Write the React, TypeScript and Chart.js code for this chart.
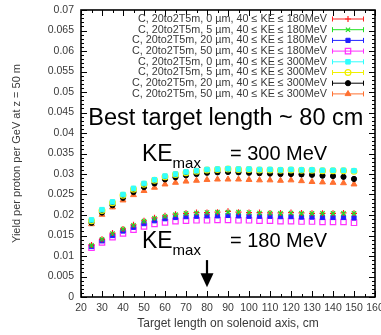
import React, { useEffect, useRef } from 'react';
import { Chart, registerables } from 'chart.js';
import { drawPoint } from 'chart.js/helpers';

Chart.register(...registerables);

// ---------- data ----------
const targetLengths = [25, 30, 35, 40, 45, 50, 55, 60, 65, 70, 75, 80, 85, 90, 95, 100, 105, 110, 115, 120, 125, 130, 135, 140, 145, 150];

const ke180_0um = [0.0127, 0.0141, 0.0156, 0.0166, 0.0176, 0.0186, 0.0193, 0.0198, 0.0202, 0.0204, 0.0206, 0.0206, 0.0207, 0.0209, 0.0207, 0.0206, 0.0206, 0.0205, 0.0205, 0.0206, 0.0205, 0.0204, 0.0204, 0.0204, 0.0205, 0.0204];
const ke180_5um = [0.0126, 0.0141, 0.0155, 0.0166, 0.0175, 0.0185, 0.0192, 0.0197, 0.0201, 0.0204, 0.0205, 0.0206, 0.0207, 0.0207, 0.0207, 0.0206, 0.0205, 0.0205, 0.0204, 0.0205, 0.0204, 0.0204, 0.0204, 0.0204, 0.0204, 0.0204];
const ke180_20um = [0.0123, 0.0137, 0.0150, 0.0161, 0.0170, 0.0179, 0.0186, 0.0191, 0.0194, 0.0196, 0.0197, 0.0198, 0.0198, 0.0199, 0.0198, 0.0197, 0.0197, 0.0197, 0.0196, 0.0196, 0.0195, 0.0195, 0.0194, 0.0194, 0.0194, 0.0193];
const ke180_50um = [0.0120, 0.0133, 0.0146, 0.0155, 0.0164, 0.0172, 0.0178, 0.0182, 0.0185, 0.0186, 0.0187, 0.0187, 0.0188, 0.0188, 0.0187, 0.0187, 0.0186, 0.0186, 0.0185, 0.0185, 0.0184, 0.0184, 0.0183, 0.0183, 0.0183, 0.0181];
const ke300_0um = [0.0188, 0.0213, 0.0232, 0.0250, 0.0265, 0.0277, 0.0286, 0.0295, 0.0300, 0.0305, 0.0308, 0.0311, 0.0312, 0.0313, 0.0312, 0.0312, 0.0311, 0.0311, 0.0310, 0.0311, 0.0310, 0.0310, 0.0309, 0.0309, 0.0309, 0.0308];
const ke300_5um = [0.0186, 0.0211, 0.0230, 0.0248, 0.0263, 0.0275, 0.0285, 0.0293, 0.0299, 0.0303, 0.0307, 0.0310, 0.0311, 0.0312, 0.0311, 0.0311, 0.0310, 0.0310, 0.0309, 0.0310, 0.0309, 0.0309, 0.0308, 0.0308, 0.0308, 0.0307];
const ke300_20um = [0.0181, 0.0206, 0.0224, 0.0242, 0.0256, 0.0268, 0.0277, 0.0287, 0.0292, 0.0297, 0.0300, 0.0303, 0.0304, 0.0305, 0.0304, 0.0303, 0.0302, 0.0301, 0.0300, 0.0300, 0.0299, 0.0298, 0.0296, 0.0295, 0.0293, 0.0288];
const ke300_50um = [0.0178, 0.0201, 0.0219, 0.0236, 0.0249, 0.0259, 0.0267, 0.0275, 0.0279, 0.0282, 0.0284, 0.0286, 0.0287, 0.0287, 0.0287, 0.0286, 0.0285, 0.0285, 0.0284, 0.0285, 0.0283, 0.0281, 0.0280, 0.0279, 0.0278, 0.0275];

const seriesLabels = [
  'C, 20to2T5m, 0 \u00b5m, 40 \u2264 KE \u2264 180MeV',
  'C, 20to2T5m, 5 \u00b5m, 40 \u2264 KE \u2264 180MeV',
  'C, 20to2T5m, 20 \u00b5m, 40 \u2264 KE \u2264 180MeV',
  'C, 20to2T5m, 50 \u00b5m, 40 \u2264 KE \u2264 180MeV',
  'C, 20to2T5m, 0 \u00b5m, 40 \u2264 KE \u2264 300MeV',
  'C, 20to2T5m, 5 \u00b5m, 40 \u2264 KE \u2264 300MeV',
  'C, 20to2T5m, 20 \u00b5m, 40 \u2264 KE \u2264 300MeV',
  'C, 20to2T5m, 50 \u00b5m, 40 \u2264 KE \u2264 300MeV',
];
const seriesValues = [ke180_0um, ke180_5um, ke180_20um, ke180_50um, ke300_0um, ke300_5um, ke300_20um, ke300_50um];

const xTitle = 'Target length on solenoid axis, cm';
const yTitle = 'Yield per proton per GeV at z = 50 m';
const bestText = 'Best target length ~ 80 cm';
const ke300Text = '= 300 MeV';
const ke180Text = '= 180 MeV';
const bestLength = 80;

// ---------- styles ----------
const styles = [
  { color: '#ff2020', pointStyle: 'cross', radius: 3, fill: true, bw: 1.2 },
  { color: '#20e020', pointStyle: 'crossRot', radius: 3, fill: true, bw: 1.2 },
  { color: '#2020ff', pointStyle: 'rect', radius: 3, fill: true, bw: 1 },
  { color: '#ff30ff', pointStyle: 'rect', radius: 3.8, fill: false, bw: 1.2 },
  { color: '#30ffff', pointStyle: 'rect', radius: 3.2, fill: true, bw: 1 },
  { color: '#f0f000', pointStyle: 'circle', radius: 2.9, fill: false, bw: 1.2 },
  { color: '#000000', pointStyle: 'circle', radius: 2.6, fill: true, bw: 1 },
  { color: '#ff7030', pointStyle: 'triangle', radius: 3.4, fill: true, bw: 1 },
];
// drawing order (lower = drawn on top)
const drawOrder = [2, 1, 3, 4, 5, 6, 7, 8];

const FONT = '"Liberation Sans", Arial, sans-serif';
const TEXT_GRAY = '#3a3a3a';

const framePlugin = {
  id: 'frame',
  afterDatasetsDraw(chart: any) {
    const { ctx, chartArea: a, scales } = chart;
    const xs = scales.x;
    const ys = scales.y;
    ctx.save();
    ctx.strokeStyle = '#000';
    ctx.lineWidth = 1;
    for (let i = 0; i <= 70; i++) {
      const py = Math.round(ys.getPixelForValue(i * 0.001)) + 0.5;
      const len = i % 5 === 0 ? 6 : 3;
      ctx.beginPath();
      ctx.moveTo(a.left, py);
      ctx.lineTo(a.left + len, py);
      ctx.moveTo(a.right, py);
      ctx.lineTo(a.right - len, py);
      ctx.stroke();
    }
    for (let i = 0; i <= 28; i++) {
      const px = Math.round(xs.getPixelForValue(20 + i * 5)) + 0.5;
      const len = i % 2 === 0 ? 6 : 3;
      ctx.beginPath();
      ctx.moveTo(px, a.bottom);
      ctx.lineTo(px, a.bottom - len);
      ctx.moveTo(px, a.top);
      ctx.lineTo(px, a.top + len);
      ctx.stroke();
    }
    ctx.lineWidth = 1.6;
    ctx.strokeRect(a.left, a.top, a.right - a.left, a.bottom - a.top);

    // legend
    ctx.font = `10.8px ${FONT}`;
    ctx.textAlign = 'right';
    ctx.textBaseline = 'middle';
    for (let i = 0; i < seriesLabels.length; i++) {
      const y = a.top + 9 + i * 10.7;
      const s = styles[i];
      ctx.fillStyle = TEXT_GRAY;
      ctx.fillText(seriesLabels[i], a.right - 48, y);
      const x0 = a.right - 43;
      const x1 = a.right - 11;
      ctx.strokeStyle = s.color;
      ctx.lineWidth = 1;
      ctx.beginPath();
      ctx.moveTo(x0, y);
      ctx.lineTo(x1, y);
      ctx.moveTo(x0 + 0.5, y - 2.5);
      ctx.lineTo(x0 + 0.5, y + 2.5);
      ctx.moveTo(x1 - 0.5, y - 2.5);
      ctx.lineTo(x1 - 0.5, y + 2.5);
      ctx.stroke();
      ctx.fillStyle = s.fill ? s.color : 'rgba(255,255,255,0)';
      ctx.lineWidth = s.bw;
      drawPoint(ctx, { pointStyle: s.pointStyle, radius: s.radius, rotation: 0, borderWidth: s.bw } as any, (x0 + x1) / 2, y);
    }

    // annotations
    ctx.fillStyle = '#000';
    ctx.textAlign = 'left';
    ctx.textBaseline = 'alphabetic';
    ctx.font = `23.5px ${FONT}`;
    ctx.fillText(bestText, xs.getPixelForValue(23.5), ys.getPixelForValue(0.042));

    const drawKE = (yVal: number, rest: string) => {
      const x = xs.getPixelForValue(49);
      const y = ys.getPixelForValue(yVal);
      ctx.font = `23px ${FONT}`;
      ctx.fillText('KE', x, y);
      const w = ctx.measureText('KE').width;
      ctx.font = `15px ${FONT}`;
      ctx.fillText('max', x + w, y + 7);
      ctx.font = `20px ${FONT}`;
      ctx.fillText(rest, x + 88, y - 1);
    };
    drawKE(0.0332, ke300Text);
    drawKE(0.012, ke180Text);

    // arrow
    const ax = xs.getPixelForValue(bestLength);
    const yTop = ys.getPixelForValue(0.0090);
    const yTip = ys.getPixelForValue(0.0024);
    const headH = 14;
    ctx.strokeStyle = '#000';
    ctx.lineWidth = 2.2;
    ctx.beginPath();
    ctx.moveTo(ax, yTop);
    ctx.lineTo(ax, yTip - headH + 1);
    ctx.stroke();
    ctx.beginPath();
    ctx.moveTo(ax - 6.5, yTip - headH);
    ctx.lineTo(ax + 6.5, yTip - headH);
    ctx.lineTo(ax, yTip);
    ctx.closePath();
    ctx.fill();
    ctx.restore();
  },
};

export default function App() {
  const ref = useRef<HTMLCanvasElement | null>(null);
  useEffect(() => {
    if (!ref.current) return;
    const datasets = seriesValues.map((vals, i) => {
      const s = styles[i];
      return {
        label: seriesLabels[i],
        data: targetLengths.map((x, j) => ({ x, y: vals[j] })),
        showLine: false,
        order: drawOrder[i],
        pointStyle: s.pointStyle,
        pointRadius: s.radius,
        pointBorderWidth: s.bw,
        borderColor: s.color,
        backgroundColor: s.fill ? s.color : 'rgba(255,255,255,0)',
        pointBackgroundColor: s.fill ? s.color : 'rgba(255,255,255,0)',
        pointBorderColor: s.color,
      };
    });
    const chart = new Chart(ref.current, {
      type: 'scatter',
      data: { datasets: datasets as any },
      options: {
        animation: false,
        responsive: false,
        layout: { padding: { top: 10, right: 6, left: 0, bottom: 0 } },
        plugins: { legend: { display: false }, tooltip: { enabled: false } },
        scales: {
          x: {
            type: 'linear',
            min: 20,
            max: 160,
            ticks: {
              stepSize: 10,
              autoSkip: false,
              maxRotation: 0,
              padding: 5,
              color: TEXT_GRAY,
              font: { family: FONT, size: 10.5 },
            },
            grid: { display: true, drawOnChartArea: false, drawTicks: false },
            border: { display: false },
            title: {
              display: true,
              text: xTitle,
              color: TEXT_GRAY,
              font: { family: FONT, size: 12 },
              padding: { top: 0, bottom: 4 },
            },
            afterFit: (scale: any) => {
              scale.height = 38;
              scale.paddingLeft = 0;
              scale.paddingRight = 0;
            },
          },
          y: {
            type: 'linear',
            min: 0,
            max: 0.07,
            ticks: {
              stepSize: 0.005,
              autoSkip: false,
              padding: 7,
              color: TEXT_GRAY,
              font: { family: FONT, size: 10.5 },
              callback: (v: any) => String(Number(Number(v).toFixed(3))),
            },
            grid: { display: true, drawOnChartArea: false, drawTicks: false },
            border: { display: false },
            title: {
              display: true,
              text: yTitle,
              color: TEXT_GRAY,
              font: { family: FONT, size: 11 },
              padding: { top: 10, bottom: 0 },
            },
            afterFit: (scale: any) => {
              scale.width = 81;
              scale.paddingTop = 0;
              scale.paddingBottom = 0;
            },
          },
        },
      },
      plugins: [framePlugin],
    } as any);
    return () => chart.destroy();
  }, []);
  return (
    <div style={{ position: 'absolute', left: 0, top: 0, width: 381, height: 335, background: '#fff' }}>
      <canvas ref={ref} width={381} height={335} style={{ display: 'block', width: 381, height: 335 }} />
    </div>
  );
}
